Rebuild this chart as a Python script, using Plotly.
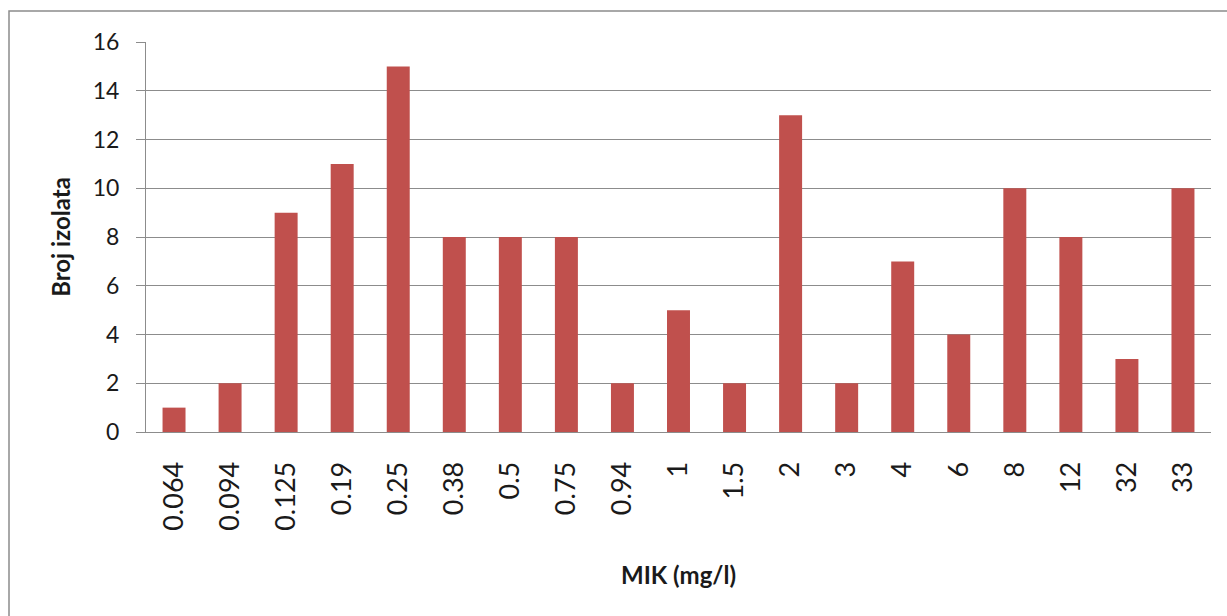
import plotly.graph_objects as go

# MIC values (mg/l) and number of isolates at each
mic_labels = ["0.064", "0.094", "0.125", "0.19", "0.25", "0.38", "0.5", "0.75", "0.94",
              "1", "1.5", "2", "3", "4", "6", "8", "12", "32", "33"]
isolates = [1, 2, 9, 11, 15, 8, 8, 8, 2, 5, 2, 13, 2, 7, 4, 10, 8, 3, 10]
y_ticks = [0, 2, 4, 6, 8, 10, 12, 14, 16]

FONT = "Lato, Open Sans, sans-serif"
GRID = "#8c8c8c"
TEXT = "#1a1a1a"

fig = go.Figure(go.Bar(
    x=mic_labels,
    y=isolates,
    marker=dict(color="#C0504D", line=dict(width=0)),
))

W, H = 1227, 616
L, R, T, B = 146, 16, 42, 184
pw, ph = W - L - R, H - T - B

fig.update_layout(
    width=W, height=H,
    margin=dict(l=L, r=R, t=T, b=B),
    paper_bgcolor="white", plot_bgcolor="white",
    bargap=0.59,
    showlegend=False,
    font=dict(family=FONT, color=TEXT),
    xaxis=dict(
        type="category",
        tickangle=-90,
        tickfont=dict(size=27, family=FONT, color=TEXT),
        ticks="", ticklabelstandoff=18,
        showline=True, linecolor=GRID, linewidth=1,
        showgrid=False,
        title=dict(text="<b>MIK (mg/l)</b>", font=dict(size=24, family=FONT, color=TEXT), standoff=37),
    ),
    yaxis=dict(
        range=[0, 16],
        tickvals=y_ticks,
        tickfont=dict(size=23, family=FONT, color=TEXT),
        ticks="outside", ticklen=9, tickcolor=GRID, tickwidth=1,
        ticklabelstandoff=12,
        showline=True, linecolor=GRID, linewidth=1,
        showgrid=True, gridcolor=GRID, gridwidth=1,
        zeroline=False,
        title=dict(text="<b>Broj izolata</b>", font=dict(size=24, family=FONT, color=TEXT), standoff=15),
    ),
    shapes=[dict(
        type="rect", xref="paper", yref="paper",
        x0=(9 - L) / pw, x1=(W + 5 - L) / pw,
        y0=(H - B - 11) / ph, y1=-(B + 5) / ph,
        line=dict(color="#8c8c8c", width=1.5), fillcolor="rgba(0,0,0,0)",
        layer="below",
    )],
)

fig.write_html("out.html")
